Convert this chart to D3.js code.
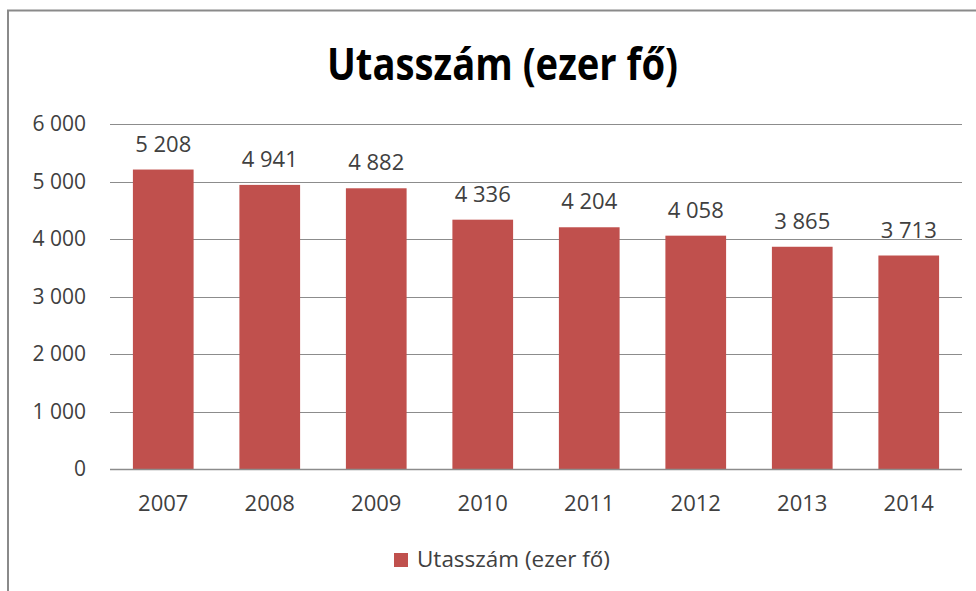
<!DOCTYPE html>
<html><head><meta charset="utf-8">
<script src="https://cdn.jsdelivr.net/npm/d3@7/dist/d3.min.js"></script>
<style>body{margin:0;background:#fff;} svg{display:block;}</style>
</head><body>
<svg id="c" width="976" height="591"></svg>
<script>
const years = ["2007","2008","2009","2010","2011","2012","2013","2014"];
const values = [5208,4941,4882,4336,4204,4058,3865,3713];
const yTicks = [0,1000,2000,3000,4000,5000,6000];
const title = "Utasszám (ezer fő)";
const seriesName = "Utasszám (ezer fő)";

const fmt = v => d3.format(",")(v).replace(/,/g, "\u00a0");
const svg = d3.select("#c");
const W = 976, H = 591;
const m = {left:110, right:962, top:124, bottom:469};
const FONT = "'Open Sans', sans-serif";

// border
svg.append("path").attr("d", `M8,${H} L8,10.5 L${W},10.5`)
  .attr("fill","none").attr("stroke","#8a8a8a").attr("stroke-width",2);

const x = d3.scaleBand().domain(years).range([m.left, m.right]).paddingInner(0.43).paddingOuter(0.215);
const y = d3.scaleLinear().domain([0,6000]).range([m.bottom, m.top]);

// gridlines
svg.append("g").selectAll("line").data(yTicks.filter(d=>d>0)).join("line")
  .attr("x1", m.left).attr("x2", m.right)
  .attr("y1", d=>Math.round(y(d))+0.5).attr("y2", d=>Math.round(y(d))+0.5)
  .attr("stroke","#8c8c8c").attr("stroke-width",1);

// bars
svg.append("g").selectAll("rect").data(values).join("rect")
  .attr("x",(d,i)=>x(years[i])).attr("width",x.bandwidth())
  .attr("y",d=>y(d)).attr("height",d=>y(0)-y(d))
  .attr("fill","#C0504D");

// y axis
const yAxis = d3.axisLeft(y).tickValues(yTicks).tickSize(0).tickPadding(24).tickFormat(fmt);
const ga = svg.append("g").attr("transform",`translate(${m.left},0)`).call(yAxis);
ga.select(".domain").remove();
ga.selectAll("text").attr("font-family",FONT).attr("font-size",21).attr("fill","#404040");

// x axis
const xAxis = d3.axisBottom(x).tickSize(0).tickPadding(26);
const gx = svg.append("g").attr("transform",`translate(0,${m.bottom})`).call(xAxis);
gx.select(".domain").attr("stroke","#8c8c8c").attr("stroke-width",1.5).attr("d",`M${m.left},0.5H${m.right}`);
gx.selectAll("text").attr("font-family",FONT).attr("font-size",22).attr("fill","#404040");

// data labels
svg.append("g").selectAll("text").data(values).join("text")
  .attr("x",(d,i)=>x(years[i])+x.bandwidth()/2).attr("y",d=>y(d)-18)
  .attr("text-anchor","middle").attr("font-family",FONT)
  .attr("font-size",22).attr("fill","#404040").text(d=>fmt(d));

// title
svg.append("text").attr("x",327).attr("y",80)
  .attr("font-family",FONT).attr("font-weight","bold")
  .attr("font-size",44).attr("fill","#000")
  .attr("textLength",351).attr("lengthAdjust","spacingAndGlyphs").text(title);

// legend
svg.append("rect").attr("x",394).attr("y",553).attr("width",14).attr("height",14).attr("fill","#C0504D");
svg.append("text").attr("x",417).attr("y",567).attr("font-family",FONT)
  .attr("font-size",21).attr("fill","#404040")
  .attr("textLength",193).attr("lengthAdjust","spacingAndGlyphs").text(seriesName);
</script>
</body></html>
